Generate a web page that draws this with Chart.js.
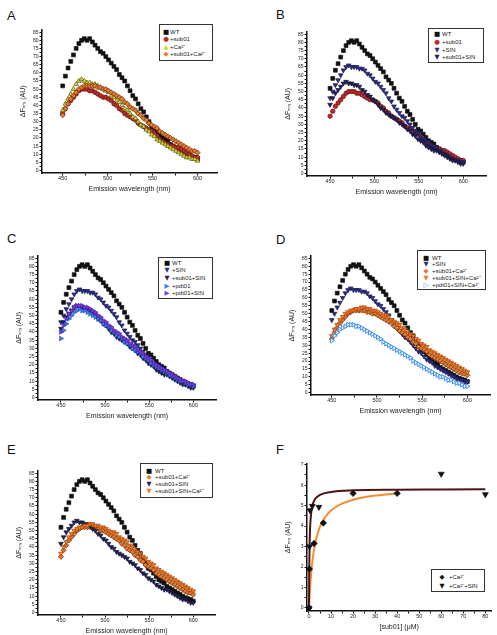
<!DOCTYPE html>
<html>
<head>
<meta charset="utf-8">
<script src="https://cdn.jsdelivr.net/npm/chart.js@4.4.1/dist/chart.umd.min.js"></script>
<style>
body { margin: 0; background: #fff; width: 497px; height: 635px; position: relative; overflow: hidden;
       font-family: 'Liberation Sans', Arial, sans-serif; }
canvas { position: absolute; }
.letter { position: absolute; font-size: 13px; line-height: 13px; color: #111; }
.lg { position: absolute; box-sizing: border-box; border: 1px solid #333; background: #fff;
      font-size: 6px; color: #222; white-space: nowrap; }
.lg i { font-style: normal; display: inline-block; width: 9px; text-align: center; font-size: 6.5px;
        font-family: 'DejaVu Sans', sans-serif; }
</style>
</head>
<body>
<div class="letter" style="left:7px;top:9px">A</div>
<div class="letter" style="left:276px;top:8px">B</div>
<div class="letter" style="left:7px;top:232px">C</div>
<div class="letter" style="left:276px;top:233px">D</div>
<div class="letter" style="left:7px;top:443px">E</div>
<div class="letter" style="left:276px;top:443px">F</div>
<script>
// emission wavelengths (nm)
const wavelength = [
  450,453,456,459,462,465,468,471,474,477,
  480,483,486,489,492,495,498,501,504,507,
  510,513,516,519,522,525,528,531,534,537,
  540,543,546,549,552,555,558,561,564,567,
  570,573,576,579,582,585,588,591,594,597,
  600];

// ΔF (AU) per condition
const wtSignal = [
  52,58,63,67,71,75,78,80,81,80,
  81,79,77,75,73,72,70,68,66,64,
  62,59,57,55,52,49,46,44,41,38,
  36,33,30,27,26,24,22,20,19,18,
  16,15,14,13,12,11,10,9,8.5,8,
  7];
const sub01Signal = [
  35,38,41,43,45,47,49,50,50,50,
  49,49,48,47,46,45,45,44,43,41,
  40,38,37,35,34,33,32,31,29,28,
  27,26,25,24,23,21,19,18,17,16,
  15,15,14,14,13,12,11,10,9,8,
  8];
const caSignal = [
  37,41,44,47,50,53,55,56,55,54,
  54,53,53,52,51,50,49,48,46,45,
  43,42,40,38,37,35,33,32,30,28,
  27,25,24,22,21,19,18,17,16,15,
  14,13,12,11,10,9,8,8,7,7,
  6];
const sub01CaSignal = [
  34,38,41,44,46,48,50,51,52,52,
  52,52,52,51,51,50,50,49,48,47,
  46,45,44,42,41,39,38,37,35,34,
  32,31,29,28,27,26,24,23,22,21,
  20,19,18,17,16,15,14,13,12,12,
  11];
const sinSignal = [
  46,50,54,57,60,63,65,66,65,65,
  65,64,64,63,61,60,58,56,55,53,
  51,49,46,44,41,39,37,35,34,32,
  30,28,26,25,23,21,20,19,17,16,
  15,14,13,12,11,10,9,8,8,7,
  7];
const sub01SinSignal = [
  42,46,49,51,53,55,56,55,55,54,
  54,53,51,50,48,47,45,44,42,40,
  39,37,36,35,34,33,31,30,29,27,
  26,24,23,21,20,19,17,16,15,14,
  14,13,12,11,10,9,8,8,7,6,
  6];
const pdt01Signal = [
  36,41,45,48,50,52,53,54,53,53,
  52,51,50,49,48,47,45,44,43,41,
  40,38,37,36,34,33,32,30,29,28,
  27,25,24,23,21,20,19,18,17,16,
  15,14,13,12,11,10,10,9,8,8,
  7];
const pdt01SinSignal = [
  40,44,48,51,53,55,56,56,56,55,
  55,54,53,52,50,49,47,46,44,43,
  41,40,39,37,36,35,33,32,31,29,
  28,27,25,24,23,21,20,19,18,17,
  16,15,14,13,12,11,10,10,9,8,
  8];
const sub01SinCaSignal = [
  36,40,43,46,48,50,51,52,52,53,
  53,54,54,53,53,52,52,51,50,49,
  49,48,46,45,44,43,41,40,38,37,
  36,34,33,31,30,29,27,26,25,24,
  23,22,21,20,19,18,17,16,15,14,
  13];
const pdt01SinCaSignal = [
  33,36,38,40,41,42,43,43,43,42,
  42,41,40,39,38,37,36,35,34,32,
  31,30,29,28,27,26,25,24,23,22,
  20,19,18,17,16,15,14,13,12,11,
  10,10,9,8,8,7,6,6,5,4,
  4];

// titration (panel F)
const caConc = [0, 0.2, 2.3, 6.5, 20, 40];
const caResp = [0, 1.9, 3.15, 4.15, 5.6, 5.6];
const sinConc = [0, 0.25, 0.5, 1.5, 4.5, 60, 80];
const sinResp = [0, 3.0, 4.77, 4.98, 4.93, 6.55, 5.55];
const sinFitConc = [0, 0.1, 0.25, 0.5, 0.75, 1, 1.5, 2, 3, 5, 10, 20, 40, 60, 80];
const sinFitResp = [0, 1.7, 2.9, 3.9, 4.35, 4.65, 4.98, 5.16, 5.35, 5.53, 5.67, 5.75, 5.78, 5.79, 5.8];
const caFitConc = [0, 0.5, 1, 1.5, 2, 3, 4, 5, 6, 8, 10, 12, 15, 20, 25, 30, 35, 40];
const caFitResp = [0, 0.99, 1.7, 2.23, 2.64, 3.25, 3.66, 3.97, 4.2, 4.53, 4.76, 4.92, 5.1, 5.29, 5.41, 5.49, 5.55, 5.6];

// ticks
const specXTicks = [450, 475, 500, 525, 550, 575, 600];
const specXLabels = [450, 500, 550, 600];
const specYTicks = [0,2.5,5,7.5,10,12.5,15,17.5,20,22.5,25,27.5,30,32.5,35,37.5,40,42.5,
                    45,47.5,50,52.5,55,57.5,60,62.5,65,67.5,70,72.5,75,77.5,80,82.5,85];
const specYLabels = [0,5,10,15,20,25,30,35,40,45,50,55,60,65,70,75,80,85];
const concTicks = [0,5,10,15,20,25,30,35,40,45,50,55,60,65,70,75,80];
const concLabels = [0,10,20,30,40,50,60,70,80];
const respTicks = [0,0.5,1,1.5,2,2.5,3,3.5,4,4.5,5,5.5,6,6.5,7];
const respLabels = [0,1,2,3,4,5,6,7];

const FONT = "'Liberation Sans', Arial, sans-serif";
const yTitle = 'ΔFₑₘ (AU)';
const xTitle = 'Emission wavelength (nm)';

const STYLES = {
  wt:        { label: 'WT', shape: 'rect', rot: 0, r: 2.7, fill: '#111', edge: '#111', glyph: '■' },
  sub01:     { label: '+sub01', shape: 'circle', rot: 0, r: 2.2, fill: '#c4292a', edge: '#5a1212', glyph: '●' },
  ca:        { label: '+Ca²⁺', shape: 'triangle', rot: 0, r: 2.7, fill: '#d6d632', edge: '#5c5a12', glyph: '▲' },
  sub01ca:   { label: '+sub01+Ca²⁺', shape: 'rectRot', rot: 0, r: 2.6, fill: '#e67b2c', edge: '#5a2810', glyph: '◆' },
  sin:       { label: '+SIN', shape: 'triangle', rot: 180, r: 2.7, fill: '#2e2e8a', edge: '#1a1a52', glyph: '▼' },
  sub01sin:  { label: '+sub01+SIN', shape: 'triangle', rot: 180, r: 2.7, fill: '#24235e', edge: '#121230', glyph: '▼' },
  pdt01:     { label: '+pdt01', shape: 'triangle', rot: 90, r: 2.7, fill: '#3b82ea', edge: '#2456b8', glyph: '▶' },
  pdt01sin:  { label: '+pdt01+SIN', shape: 'triangle', rot: 90, r: 2.7, fill: '#7a3de6', edge: '#4b20a0', glyph: '▶' },
  sub01sinca:{ label: '+sub01+SIN+Ca²⁺', shape: 'triangle', rot: 180, r: 2.7, fill: '#f47a1e', edge: '#a84810', glyph: '▼' },
  pdt01sinca:{ label: '+pdt01+SIN+Ca²⁺', shape: 'triangle', rot: 90, r: 2.7, fill: '#ffffff', edge: '#3a8ef0', glyph: '▷', bw: 1 },
  fca:       { label: '+Ca²⁺', shape: 'rectRot', rot: 0, r: 3.2, fill: '#111', edge: '#111', glyph: '◆' },
  fsin:      { label: '+Ca²⁺+SIN', shape: 'triangle', rot: 180, r: 3.4, fill: '#111', edge: '#111', glyph: '▼' }
};

function points(key, xs, ys) {
  const s = STYLES[key];
  return {
    label: s.label,
    data: xs.map((x, i) => ({ x: x, y: ys[i] })),
    showLine: false,
    pointStyle: s.shape, pointRotation: s.rot, pointRadius: s.r,
    pointBackgroundColor: s.fill, pointBorderColor: s.edge, pointBorderWidth: s.bw || 0.7
  };
}

function fitLine(xs, ys, color) {
  return {
    data: xs.map((x, i) => ({ x: x, y: ys[i] })),
    showLine: true, borderColor: color, borderWidth: 2, pointRadius: 0,
    cubicInterpolationMode: 'monotone', fill: false
  };
}

function axis(isX, min, max, ticks, labels, title) {
  return {
    type: 'linear', min: min, max: max,
    afterFit: s => { if (isX) s.height = 24; else s.width = 24; },
    afterBuildTicks: s => { s.ticks = ticks.map(v => ({ value: v })); },
    ticks: {
      autoSkip: false, maxRotation: 0, padding: isX ? 0 : 1, color: '#222',
      font: { size: isX ? 5.5 : 5, family: FONT },
      callback: v => labels.includes(v) ? String(v) : ''
    },
    grid: { drawOnChartArea: false, drawTicks: true, tickLength: 2.5, color: '#111', lineWidth: 1 },
    border: { color: '#111', width: 1.5 },
    title: {
      display: true, text: title, color: '#222', font: { size: 7, family: FONT },
      padding: isX ? { top: 0, bottom: 4 } : { top: 1, bottom: 0 }
    }
  };
}

function panel(box, x, y, datasets) {
  const c = document.createElement('canvas');
  const w = box.r - box.l + 28, h = box.b - box.t + 28;
  c.width = w; c.height = h;
  c.style.width = w + 'px'; c.style.height = h + 'px';
  c.style.left = (box.l - 24) + 'px'; c.style.top = (box.t - 4) + 'px';
  document.body.appendChild(c);
  datasets.forEach((d, i) => { if (d.order === undefined) d.order = datasets.length - i; });
  new Chart(c, {
    type: 'scatter',
    data: { datasets: datasets },
    options: {
      animation: false, responsive: false,
      layout: { padding: { top: 4, right: 4, left: 0, bottom: 0 } },
      plugins: { legend: { display: false }, tooltip: { enabled: false } },
      scales: { x: x, y: y }
    }
  });
}

function legend(pos, keys) {
  const d = document.createElement('div');
  d.className = 'lg';
  d.style.left = pos.l + 'px'; d.style.top = pos.t + 'px';
  d.style.width = pos.w + 'px'; d.style.height = pos.h + 'px';
  d.style.paddingTop = pos.pt + 'px'; d.style.paddingLeft = pos.pl + 'px';
  d.style.lineHeight = pos.lh + 'px';
  keys.forEach(k => {
    const s = STYLES[k];
    const row = document.createElement('div');
    const mark = document.createElement('i');
    mark.textContent = s.glyph;
    mark.style.color = s.fill === '#ffffff' ? s.edge : s.fill;
    mark.style.width = pos.mw + 'px';
    row.appendChild(mark);
    row.appendChild(document.createTextNode(s.label));
    d.appendChild(row);
  });
  document.body.appendChild(d);
}

const spec = (key, values) => points(key, wavelength, values);
const specX = (min, max) => axis(true, min, max, specXTicks, specXLabels, xTitle);
const specY = () => axis(false, -1.5, 86.5, specYTicks, specYLabels, yTitle);

// A
panel({ l: 42, t: 29, r: 218, b: 173 }, specX(427, 622), specY(), [
  spec('wt', wtSignal), spec('sub01', sub01Signal), spec('ca', caSignal), spec('sub01ca', sub01CaSignal)
]);
legend({ l: 159, t: 24, w: 54, h: 37, pt: 4, pl: 2, lh: 7.4, mw: 8 }, ['wt', 'sub01', 'ca', 'sub01ca']);

// B
panel({ l: 307, t: 31, r: 487, b: 176 }, specX(424, 626), specY(), [
  spec('wt', wtSignal), spec('sub01', sub01Signal), spec('sin', sinSignal), spec('sub01sin', sub01SinSignal)
]);
legend({ l: 428, t: 28, w: 56, h: 35, pt: 2, pl: 3, lh: 7.8, mw: 10 }, ['wt', 'sub01', 'sin', 'sub01sin']);

// C
panel({ l: 38, t: 255, r: 217, b: 400 }, specX(424, 626), specY(), [
  spec('wt', wtSignal), spec('sin', sinSignal), spec('sub01sin', sub01SinSignal),
  spec('pdt01', pdt01Signal), spec('pdt01sin', pdt01SinSignal)
]);
legend({ l: 158, t: 257, w: 55, h: 42, pt: 1.5, pl: 3, lh: 7.7, mw: 10 }, ['wt', 'sin', 'sub01sin', 'pdt01', 'pdt01sin']);

// D
panel({ l: 311, t: 255, r: 491, b: 395 }, specX(427, 625), specY(), [
  spec('wt', wtSignal), spec('sin', sinSignal), spec('sub01ca', sub01CaSignal),
  spec('sub01sinca', sub01SinCaSignal), spec('pdt01sinca', pdt01SinCaSignal)
]);
legend({ l: 417, t: 250, w: 69, h: 40, pt: 3.5, pl: 2, lh: 6.8, mw: 12 }, ['wt', 'sin', 'sub01ca', 'sub01sinca', 'pdt01sinca']);

// E
panel({ l: 38, t: 470, r: 216, b: 615 }, specX(424, 625), specY(), [
  spec('wt', wtSignal), spec('sub01ca', sub01CaSignal), spec('sub01sin', sub01SinSignal), spec('sub01sinca', sub01SinCaSignal)
]);
legend({ l: 140, t: 463, w: 73, h: 35, pt: 3.5, pl: 2, lh: 6.8, mw: 12 }, ['wt', 'sub01ca', 'sub01sin', 'sub01sinca']);

// F
panel({ l: 307, t: 463, r: 492, b: 611 },
  axis(true, -0.9, 82.7, concTicks, concLabels, '[sub01] (μM)'),
  axis(false, -0.15, 7.05, respTicks, respLabels, yTitle), [
  Object.assign(points('fca', caConc, caResp), { order: 0 }),
  Object.assign(points('fsin', sinConc, sinResp), { order: 1 }),
  Object.assign(fitLine(sinFitConc, sinFitResp, '#4e1414'), { order: 2 }),
  Object.assign(fitLine(caFitConc, caFitResp, '#f78b2c'), { order: 3 })
]);
legend({ l: 431, t: 569, w: 54, h: 23, pt: 2.5, pl: 3, lh: 9, mw: 14 }, ['fca', 'fsin']);
</script>
</body>
</html>
